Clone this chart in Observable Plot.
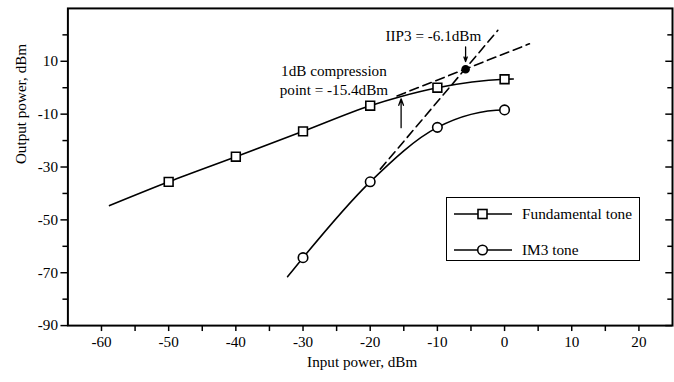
<!DOCTYPE html>
<html>
<head>
<meta charset="utf-8">
<script src="https://cdn.jsdelivr.net/npm/d3@7"></script>
<script src="https://cdn.jsdelivr.net/npm/@observablehq/plot@0.6"></script>
<style>
  html, body { margin: 0; padding: 0; background: #fff; overflow: hidden; }
  #wrap { position: relative; width: 674px; height: 382px; overflow: hidden; font-family: "Liberation Serif", "Times New Roman", serif; }
  #wrap svg text { font-family: "Liberation Serif", "Times New Roman", serif !important; }
  #legend { position: absolute; left: 446px; top: 197px; width: 192px; height: 62px; border: 1.5px solid #000; background: #fff; }
  .row { position: absolute; left: 0; height: 20px; display: flex; align-items: center; }
  .row svg { display: block; }
  .row span { font-family: "Liberation Serif", "Times New Roman", serif; font-size: 15.3px; margin-left: 10px; color: #000; white-space: nowrap; }
</style>
</head>
<body>
<div id="wrap"></div>
<script>
// ---- data ----
const fundX = [-50, -40, -30, -20, -10, 0];
const fundY = [-35.6, -26.1, -16.5, -6.8, 0.0, 3.2];
const fundCurveX = [-58.8, -50, -40, -30, -20, -15.4, -10, 0, 1.3];
const fundCurveY = [-44.6, -35.6, -26.1, -16.5, -6.8, -3.3, 0.0, 3.2, 3.3];

const im3X = [-30, -20, -10, 0];
const im3Y = [-64.3, -35.6, -15.0, -8.4];
const im3CurveX = [-32.3, -30, -20, -10, 0, 0.6];
const im3CurveY = [-71.5, -64.3, -35.6, -15.0, -8.4, -8.4];

// linear extrapolations (dashed)
const fundExtX = [-16.0, 3.7];
const fundExtY = [-3.1, 16.6];
const im3ExtX = [-18.5, -1.0];
const im3ExtY = [-30.8, 21.7];

// IIP3 point
const iip3X = [-5.8];
const iip3Y = [7.0];

// axis ticks
const xMajor = [-60, -50, -40, -30, -20, -10, 0, 10, 20];
const xMinor = [-55, -45, -35, -25, -15, -5, 5, 15];
const yMajor = [-90, -70, -50, -30, -10, 10];
const yMinor = [-80, -60, -40, -20, 0, 20];

const seriesNames = ["Fundamental tone", "IM3 tone"];

// ---- tables ----
const fundCurve = fundCurveX.map((x, i) => ({x, y: fundCurveY[i]}));
const fundPts = fundX.map((x, i) => ({x, y: fundY[i]}));
const im3Curve = im3CurveX.map((x, i) => ({x, y: im3CurveY[i]}));
const im3Pts = im3X.map((x, i) => ({x, y: im3Y[i]}));
const fundExt = fundExtX.map((x, i) => ({x, y: fundExtY[i]}));
const im3Ext = im3ExtX.map((x, i) => ({x, y: im3ExtY[i]}));

const font = "Liberation Serif, Times New Roman, serif";
const fs = 15.3;
const none = () => "";

const chart = Plot.plot({
  width: 680,
  height: 382,
  marginLeft: 68,
  marginRight: 2,
  marginTop: 8,
  marginBottom: 54,
  style: {fontFamily: font, fontSize: fs + "px", color: "#000", background: "transparent", overflow: "visible"},
  x: {domain: [-65, 25]},
  y: {domain: [-90, 30]},
  marks: [
    // axes
    Plot.axisX(xMajor, {tickSize: 6, tickPadding: 5, tickFormat: d => String(d), label: null, fontSize: fs, fontFamily: font, strokeWidth: 1.5}),
    Plot.axisX(xMinor, {tickSize: 6, tickFormat: none, label: null, strokeWidth: 1.5}),
    Plot.axisY(yMajor, {tickSize: 7, tickPadding: 3, tickFormat: d => String(d), label: null, fontSize: fs, fontFamily: font, strokeWidth: 1.5}),
    Plot.axisY(yMinor, {tickSize: 5, tickFormat: none, label: null, strokeWidth: 1.5}),
    Plot.ruleY(yMajor, {x1: 25, x2: 24, stroke: "#000", strokeWidth: 1.5}),
    Plot.ruleY(yMinor, {x1: 25, x2: 24.3, stroke: "#000", strokeWidth: 1.5}),
    Plot.frame({stroke: "#000", strokeWidth: 2}),
    // dashed extrapolations
    Plot.line(fundExt, {x: "x", y: "y", stroke: "#000", strokeWidth: 1.6, strokeDasharray: "9,5"}),
    Plot.line(im3Ext, {x: "x", y: "y", stroke: "#000", strokeWidth: 1.6, strokeDasharray: "9,5"}),
    // curves
    Plot.line(fundCurve, {x: "x", y: "y", curve: "monotone-x", stroke: "#000", strokeWidth: 1.6}),
    Plot.line(im3Curve, {x: "x", y: "y", curve: "monotone-x", stroke: "#000", strokeWidth: 1.6}),
    // markers
    Plot.dot(fundPts, {x: "x", y: "y", symbol: "square", r: 5, fill: "#fff", stroke: "#000", strokeWidth: 1.6}),
    Plot.dot(im3Pts, {x: "x", y: "y", symbol: "circle", r: 4.8, fill: "#fff", stroke: "#000", strokeWidth: 1.6}),
    Plot.dot(iip3X, {x: d => d, y: (d, i) => iip3Y[i], r: 3.6, fill: "#000", stroke: "#000"}),
    // annotation arrows
    Plot.arrow([0], {x1: -15.4, y1: -15.1, x2: -15.4, y2: -4.2, stroke: "#000", strokeWidth: 1.3, headLength: 8, headAngle: 40}),
    Plot.arrow([0], {x1: -5.8, y1: 15.4, x2: -5.8, y2: 9.9, stroke: "#000", strokeWidth: 1.3, headLength: 7, headAngle: 40}),
    // annotation text
    Plot.text(["IIP3 = -6.1dBm"], {x: -10.6, y: 19.4, text: d => d, fontSize: fs, fontFamily: font, fill: "#000"}),
    Plot.text(["1dB compression\npoint = -15.4dBm"], {x: -25.4, y: 3.1, text: d => d, fontSize: fs, fontFamily: font, lineHeight: 1.25, fill: "#000"}),
    // axis titles
    Plot.text(["Input power, dBm"], {x: -21.2, frameAnchor: "bottom", dy: 42, text: d => d, fontSize: fs, fontFamily: font, fill: "#000"}),
    Plot.text(["Output power, dBm"], {y: -28.9, frameAnchor: "left", dx: -47, rotate: -90, text: d => d, fontSize: fs, fontFamily: font, fill: "#000"})
  ]
});

const wrap = document.getElementById("wrap");
wrap.appendChild(chart);

// legend (HTML overlay)
const legend = document.createElement("div");
legend.id = "legend";
const symbols = ["square", "circle"];
const rowTops = [5.5, 42];
seriesNames.forEach((name, i) => {
  const row = document.createElement("div");
  row.className = "row";
  row.style.top = rowTops[i] + "px";
  row.style.left = "7px";
  const ns = "http://www.w3.org/2000/svg";
  const s = document.createElementNS(ns, "svg");
  s.setAttribute("width", "58");
  s.setAttribute("height", "20");
  const ln = document.createElementNS(ns, "line");
  ln.setAttribute("x1", "0"); ln.setAttribute("x2", "58");
  ln.setAttribute("y1", "10"); ln.setAttribute("y2", "10");
  ln.setAttribute("stroke", "#000"); ln.setAttribute("stroke-width", "1.5");
  s.appendChild(ln);
  let m;
  if (symbols[i] === "square") {
    m = document.createElementNS(ns, "rect");
    m.setAttribute("x", "24"); m.setAttribute("y", "5.5");
    m.setAttribute("width", "9"); m.setAttribute("height", "9");
  } else {
    m = document.createElementNS(ns, "circle");
    m.setAttribute("cx", "28.5"); m.setAttribute("cy", "10"); m.setAttribute("r", "4.8");
  }
  m.setAttribute("fill", "#fff"); m.setAttribute("stroke", "#000"); m.setAttribute("stroke-width", "1.6");
  s.appendChild(m);
  row.appendChild(s);
  const t = document.createElement("span");
  t.textContent = name;
  row.appendChild(t);
  legend.appendChild(row);
});
wrap.appendChild(legend);
</script>
</body>
</html>
